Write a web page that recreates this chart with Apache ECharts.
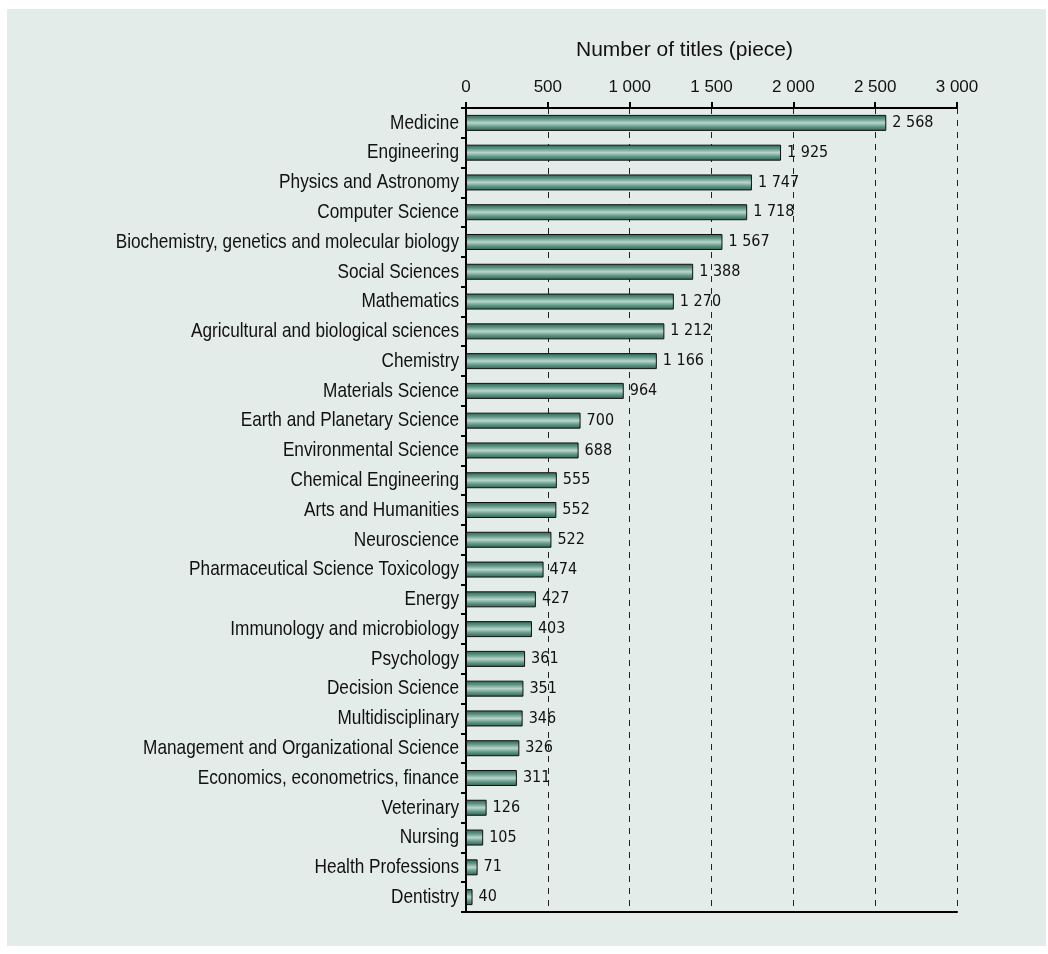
<!DOCTYPE html>
<html><head><meta charset="utf-8">
<script src="https://cdn.jsdelivr.net/npm/echarts@6/dist/echarts.min.js"></script>
<style>
html,body{margin:0;padding:0;background:#fff;}
#panel{position:absolute;left:7px;top:9px;width:1039px;height:937px;background:#e4ecea;}
#c{position:absolute;left:0;top:0;width:1048px;height:954px;}
</style></head>
<body>
<div id="panel"></div>
<div id="c"></div>
<script>
const categories = ["Medicine","Engineering","Physics and Astronomy","Computer Science","Biochemistry, genetics and molecular biology","Social Sciences","Mathematics","Agricultural and biological sciences","Chemistry","Materials Science","Earth and Planetary Science","Environmental Science","Chemical Engineering","Arts and Humanities","Neuroscience","Pharmaceutical Science Toxicology","Energy","Immunology and microbiology","Psychology","Decision Science","Multidisciplinary","Management and Organizational Science","Economics, econometrics, finance","Veterinary","Nursing","Health Professions","Dentistry"];
const values = [2568,1925,1747,1718,1567,1388,1270,1212,1166,964,700,688,555,552,522,474,427,403,361,351,346,326,311,126,105,71,40];
const axisTitle = "Number of titles (piece)";

function fmt(v){ return String(v).replace(/\B(?=(\d{3})+(?!\d))/g, ' '); }
const narrow = '"DejaVu Sans Condensed",sans-serif';
const regular = '"Liberation Sans",Arial,sans-serif';

const chart = echarts.init(document.getElementById('c'), null, {renderer:'canvas'});
chart.setOption({
  backgroundColor:'transparent',
  animation:false,
  grid:{left:466,right:91,top:108,bottom:42,containLabel:false},
  xAxis:[{
    type:'value', position:'top', min:0, max:3000, interval:500,
    axisLine:{show:true,lineStyle:{color:'#000',width:2}},
    axisTick:{show:true,inside:false,length:6,lineStyle:{color:'#000',width:2}},
    axisLabel:{fontFamily:regular,fontSize:17,color:'#111',margin:12,formatter:fmt},
    splitLine:{show:true,lineStyle:{color:'#222',type:[6,6],width:1}}
  },{
    type:'value', position:'bottom', min:0, max:3000, interval:500,
    axisLine:{show:true,lineStyle:{color:'#000',width:2}},
    axisTick:{show:false}, axisLabel:{show:false}, splitLine:{show:false}
  }],
  yAxis:{
    type:'category', data:categories, inverse:true,
    axisLine:{show:true,lineStyle:{color:'#000',width:2}},
    axisTick:{show:true,length:5,lineStyle:{color:'#000',width:2}},
    axisLabel:{show:false}
  },
  series:[{
    type:'bar', data:values, xAxisIndex:0, barWidth:16,
    itemStyle:{
      borderColor:'#111', borderWidth:1,
      color:new echarts.graphic.LinearGradient(0,0,0,1,[
        {offset:0,color:'#2b6252'},
        {offset:0.25,color:'#5f9584'},
        {offset:0.5,color:'#b9d6cc'},
        {offset:0.75,color:'#5f9584'},
        {offset:1,color:'#2b6252'}
      ])
    },
    label:{show:true,position:'right',distance:6,fontFamily:narrow,fontSize:16,color:'#111',formatter:p=>fmt(p.value)}
  }]
});

// Category labels: narrow Helvetica-like look (Liberation Sans compressed horizontally),
// positioned through the category axis scale.
const labelEls = categories.map(function(name, i){
  const py = chart.convertToPixel({yAxisIndex:0}, i);
  return {
    type:'text', x:459, y:py, scaleX:0.82, scaleY:1, silent:true,
    style:{text:name, x:0, y:0, align:'right', verticalAlign:'middle',
      font:'21px "Liberation Sans", Arial, sans-serif', fill:'#111'}
  };
});
const x0 = chart.convertToPixel({xAxisIndex:0}, 0);
const x1 = chart.convertToPixel({xAxisIndex:0}, 3000);
labelEls.push({
  type:'text', x:(x0+x1)/2 - 27, y:50, silent:true,
  style:{text:axisTitle, x:0, y:0, align:'center', verticalAlign:'middle',
    font:'21px "Liberation Sans", Arial, sans-serif', fill:'#111'}
});
chart.setOption({graphic:{elements:labelEls}});
</script>
</body></html>
